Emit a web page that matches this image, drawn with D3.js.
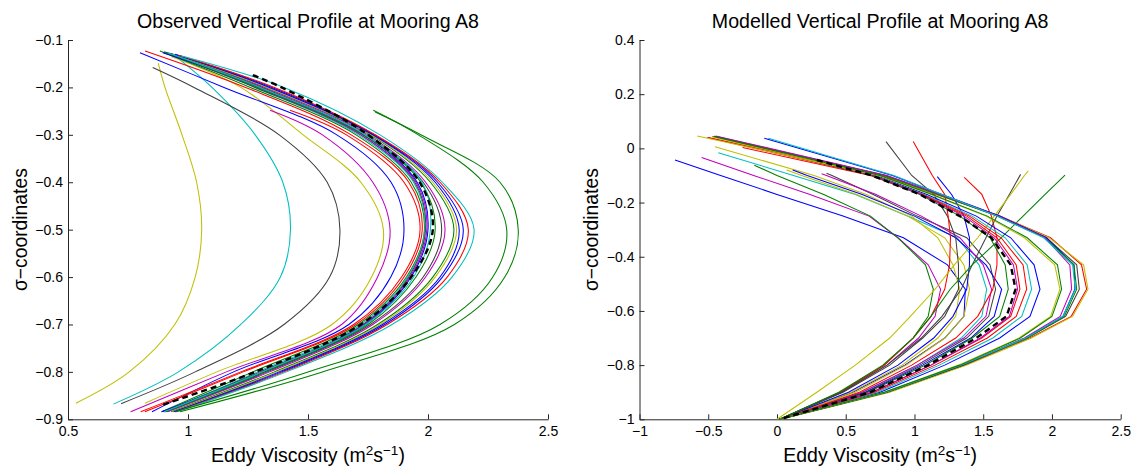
<!DOCTYPE html>
<html><head><meta charset="utf-8">
<script src="https://cdn.jsdelivr.net/npm/d3@7"></script>
<style>
html,body{margin:0;padding:0;background:#fff;}
svg{display:block;background:#fff;}
text{font-family:"Liberation Sans",Arial,Helvetica,sans-serif;fill:#000;}
</style></head><body>
<svg id="chart" width="1133" height="466"></svg>
<script>
// MATLAB-style line colours
const B = "#0000ff", G = "#008000", R = "#ff0000", C = "#00bfbf", M = "#bf00bf", Y = "#bfbf00", K = "#404040";

// ---------- Observed profiles (left panel) ----------
const obsLevels = [-0.2, -0.3, -0.4, -0.5, -0.6, -0.7, -0.8];
const obsColors = [Y, C, K, Y, M, B, R, R, G, C, K, M, B, K, M, G, Y, B, B, R, C, G, G, G, C];
// [sigma, viscosity] of the uppermost and lowest point of each profile
const obsStart = [
  [-0.149, 0.876], [-0.135, 0.95], [-0.158, 0.853], [-0.135, 0.93], [-0.248, 1.342],
  [-0.127, 0.80], [-0.248, 1.425], [-0.123, 0.821], [-0.123, 0.883], [-0.126, 0.91],
  [-0.126, 0.90], [-0.126, 0.905], [-0.127, 0.895], [-0.128, 0.92], [-0.128, 0.925],
  [-0.129, 0.93], [-0.130, 0.94], [-0.130, 0.945], [-0.131, 0.95], [-0.132, 0.96],
  [-0.133, 0.97], [-0.248, 1.772], [-0.252, 1.78], [-0.125, 0.90], [-0.127, 0.915]
];
const obsEnd = [
  [-0.866, 0.533], [-0.868, 0.689], [-0.867, 0.721], [-0.866, 0.821], [-0.884, 0.761],
  [-0.884, 0.85], [-0.884, 0.803], [-0.884, 0.82], [-0.884, 0.89], [-0.884, 0.90],
  [-0.884, 0.895], [-0.884, 0.90], [-0.884, 0.89], [-0.884, 0.91], [-0.884, 0.915],
  [-0.884, 0.93], [-0.884, 0.935], [-0.884, 0.94], [-0.884, 0.945], [-0.884, 0.95],
  [-0.884, 0.955], [-0.884, 0.947], [-0.884, 0.967], [-0.884, 0.905], [-0.884, 0.90]
];
// eddy viscosity at obsLevels (null above the profile's first point)
const obsViscosity = [
  [0.904, 0.975, 1.036, 1.057, 1.030, 0.945, 0.755],
  [1.10, 1.28, 1.395, 1.427, 1.385, 1.22, 0.96],
  [1.025, 1.38, 1.58, 1.633, 1.59, 1.40, 1.03],
  [1.22, 1.48, 1.72, 1.814, 1.765, 1.60, 1.12],
  [null, 1.56, 1.77, 1.842, 1.79, 1.64, 1.16],
  [1.15, 1.62, 1.846, 1.90, 1.845, 1.67, 1.19],
  [null, 1.66, 1.90, 1.967, 1.89, 1.69, 1.22],
  [1.24, 1.68, 1.92, 1.976, 1.90, 1.70, 1.23],
  [1.26, 1.70, 1.93, 1.985, 1.91, 1.71, 1.27],
  [1.28, 1.71, 1.94, 1.987, 1.915, 1.72, 1.29],
  [1.28, 1.72, 1.945, 1.99, 1.92, 1.73, 1.30],
  [1.29, 1.72, 1.95, 1.995, 1.925, 1.735, 1.31],
  [1.30, 1.73, 1.955, 2.0, 1.93, 1.74, 1.32],
  [1.31, 1.74, 1.98, 2.057, 1.98, 1.76, 1.33],
  [1.32, 1.75, 1.99, 2.071, 1.99, 1.77, 1.34],
  [1.33, 1.76, 2.01, 2.108, 2.02, 1.79, 1.36],
  [1.33, 1.765, 2.02, 2.119, 2.03, 1.80, 1.37],
  [1.34, 1.77, 2.03, 2.13, 2.05, 1.81, 1.38],
  [1.35, 1.775, 2.04, 2.147, 2.06, 1.82, 1.39],
  [1.36, 1.78, 2.05, 2.168, 2.08, 1.83, 1.40],
  [1.40, 1.80, 2.06, 2.192, 2.10, 1.85, 1.41],
  [null, 1.96, 2.23, 2.328, 2.27, 2.05, 1.50],
  [null, 1.97, 2.30, 2.376, 2.32, 2.11, 1.56],
  [1.29, 1.73, 1.97, 2.03, 1.95, 1.75, 1.32],
  [1.30, 1.74, 1.975, 2.01, 1.94, 1.74, 1.31]
];
const obsMeanStart = [-0.174, 1.27];
const obsMeanEnd = [-0.87, 0.89];
const obsMeanViscosity = [1.39, 1.75, 1.965, 2.02, 1.93, 1.72, 1.28];

// ---------- Modelled profiles (right panel) ----------
const modLevels = [-0.1, -0.17, -0.25, -0.33, -0.43, -0.52, -0.62, -0.7, -0.8, -0.9, -1.0];
const modColors = [B, M, G, C, Y, K, B, M, Y, K, R, B, R, K, Y, G, B, C, R, R, G, M, R, Y, K, B, G, M, C, Y, G];
const modStart = [
  [-0.043, -0.742], [-0.034, -0.548], [-0.062, -0.165], [-0.016, -0.427], [0.006, -0.451],
  [-0.092, 0.36], [-0.08, 0.114], [-0.094, 0.325], [-0.08, 0.07], [0.025, 0.793],
  [0.025, 0.991], [-0.104, 1.166], [-0.107, 1.362], [-0.096, 1.772], [-0.083, 1.828],
  [-0.099, 2.095], [0.043, -0.44], [0.040, -0.42], [0.040, -0.507], [0.003, -0.25],
  [0.044, -0.47], [0.045, -0.455], [0.040, -0.50], [0.046, -0.58], [0.045, -0.46],
  [0.037, -0.092], [0.044, -0.44], [0.046, -0.446], [0.037, -0.063], [0.042, -0.47],
  [0.043, -0.45]
];
const modViscosity = [
  [-0.41, 0.0, 0.48, 0.92, 1.24, 1.37, 1.36, 1.22, 0.93, 0.55, 0.02],
  [-0.17, 0.24, 0.67, 0.88, 1.10, 1.19, 1.15, 1.03, 0.80, 0.47, 0.02],
  [0.0, 0.34, 0.68, 0.88, 1.08, 1.137, 1.10, 0.99, 0.78, 0.46, 0.02],
  [0.12, 0.57, 0.95, 1.31, 1.47, 1.525, 1.49, 1.34, 1.02, 0.62, 0.02],
  [0.27, 0.65, 0.98, 1.17, 1.28, 1.33, 1.30, 1.17, 0.91, 0.54, 0.02],
  [0.40, 0.70, 1.02, 1.38, 1.55, 1.59, 1.54, 1.38, 1.04, 0.64, 0.02],
  [0.22, 0.62, 1.0, 1.30, 1.52, 1.634, 1.58, 1.41, 1.06, 0.65, 0.02],
  [0.36, 0.72, 1.05, 1.33, 1.50, 1.561, 1.52, 1.36, 1.02, 0.62, 0.02],
  [0.18, 0.58, 0.95, 1.22, 1.36, 1.40, 1.36, 1.22, 0.94, 0.57, 0.02],
  [0.98, 1.14, 1.24, 1.30, 1.32, 1.32, 1.22, 1.06, 0.82, 0.48, 0.02],
  [1.13, 1.22, 1.245, 1.262, 1.255, 1.22, 1.12, 0.99, 0.78, 0.46, 0.02],
  [null, 1.27, 1.36, 1.40, 1.40, 1.38, 1.28, 1.14, 0.88, 0.52, 0.02],
  [null, 1.49, 1.56, 1.60, 1.60, 1.57, 1.46, 1.30, 0.98, 0.60, 0.02],
  [null, 1.69, 1.60, 1.52, 1.42, 1.34, 1.20, 1.05, 0.80, 0.47, 0.02],
  [1.80, 1.70, 1.58, 1.46, 1.29, 1.15, 0.97, 0.82, 0.57, 0.29, 0.0],
  [null, 1.95, 1.79, 1.63, 1.42, 1.26, 1.12, 0.99, 0.77, 0.45, 0.02],
  [0.72, 1.09, 1.45, 1.70, 1.87, 1.913, 1.84, 1.62, 1.22, 0.75, 0.02],
  [0.71, 1.07, 1.42, 1.66, 1.82, 1.852, 1.78, 1.57, 1.18, 0.73, 0.02],
  [0.70, 1.06, 1.40, 1.63, 1.79, 1.816, 1.74, 1.53, 1.15, 0.71, 0.03],
  [0.68, 1.05, 1.38, 1.60, 1.74, 1.767, 1.70, 1.49, 1.12, 0.69, 0.02],
  [0.69, 1.04, 1.33, 1.55, 1.66, 1.682, 1.62, 1.42, 1.08, 0.66, 0.02],
  [0.70, 1.05, 1.36, 1.58, 1.72, 1.75, 1.69, 1.48, 1.12, 0.69, 0.02],
  [0.76, 1.16, 1.62, 1.99, 2.215, 2.252, 2.14, 1.84, 1.37, 0.81, 0.02],
  [0.74, 1.17, 1.62, 1.98, 2.23, 2.262, 2.15, 1.85, 1.38, 0.82, 0.03],
  [0.79, 1.18, 1.61, 1.96, 2.18, 2.199, 2.10, 1.82, 1.36, 0.80, 0.02],
  [0.84, 1.20, 1.62, 1.96, 2.16, 2.167, 2.08, 1.81, 1.35, 0.79, 0.02],
  [0.78, 1.17, 1.60, 1.95, 2.16, 2.18, 2.09, 1.82, 1.35, 0.80, 0.02],
  [0.80, 1.19, 1.61, 1.95, 2.13, 2.143, 2.06, 1.80, 1.34, 0.79, 0.02],
  [0.85, 1.20, 1.60, 1.94, 2.15, 2.17, 2.08, 1.81, 1.34, 0.79, 0.02],
  [0.74, 1.12, 1.52, 1.80, 2.02, 2.058, 1.99, 1.76, 1.32, 0.78, 0.02],
  [0.75, 1.13, 1.53, 1.82, 2.04, 2.07, 2.00, 1.77, 1.33, 0.78, 0.02]
];
const modMeanStart = [-0.043, 0.29];
const modMeanViscosity = [0.69, 1.04, 1.33, 1.56, 1.70, 1.735, 1.67, 1.45, 1.10, 0.68, 0.02];

// ---------- Axes ticks and labels ----------
const obsXTicks = [0.5, 1, 1.5, 2, 2.5];
const obsYTicks = [-0.9, -0.8, -0.7, -0.6, -0.5, -0.4, -0.3, -0.2, -0.1];
const modXTicks = [-1, -0.5, 0, 0.5, 1, 1.5, 2, 2.5];
const modYTicks = [-1, -0.8, -0.6, -0.4, -0.2, 0, 0.2, 0.4];
const titles = ["Observed Vertical Profile at Mooring A8", "Modelled Vertical Profile at Mooring A8"];
const yLabel = "σ−coordinates";

const svg = d3.select("#chart");

const xObs = d3.scaleLinear().domain([0.5, 2.5]).range([68, 548]);
const yObs = d3.scaleLinear().domain([-0.9, -0.1]).range([419.3, 40]);
const xMod = d3.scaleLinear().domain([-1, 2.5]).range([639.5, 1120.7]);
const yMod = d3.scaleLinear().domain([-1, 0.4]).range([419.3, 40]);

// assemble [sigma, value] points from a start point, level values and optional end point
function profilePoints(start, values, levels, end) {
  const pts = [start];
  levels.forEach((s, i) => {
    if (values[i] != null && s < start[0] - 0.004) pts.push([s, values[i]]);
  });
  if (end) pts.push(end);
  return pts;
}

function drawPanel(x, y, xTicks, yTicks, title, labelX) {
  const g = svg.append("g");
  const fmt = d3.format("~g");
  const xa = g.append("g")
    .attr("transform", `translate(0,${y.range()[0]})`)
    .call(d3.axisBottom(x).tickValues(xTicks).tickFormat(fmt)
      .tickSizeInner(-5).tickSizeOuter(0).tickPadding(7));
  const ya = g.append("g")
    .attr("transform", `translate(${x.range()[0]},0)`)
    .call(d3.axisLeft(y).tickValues(yTicks).tickFormat(fmt)
      .tickSizeInner(-5).tickSizeOuter(0).tickPadding(5));
  [xa, ya].forEach(a => {
    a.attr("font-family", null).attr("font-size", null);
    a.select(".domain").attr("stroke", "#262626").attr("stroke-width", 1);
    a.selectAll(".tick line").attr("stroke", "#262626");
    a.selectAll(".tick text").style("font-size", "14px").attr("fill", "#000");
  });
  const cx = (x.range()[0] + x.range()[1]) / 2;
  g.append("text").attr("x", cx).attr("y", 28).attr("text-anchor", "middle")
    .style("font-size", "19.6px").text(title);
  const xl = g.append("text").attr("x", cx).attr("y", 461.5).attr("text-anchor", "middle")
    .style("font-size", "19.5px");
  xl.append("tspan").text("Eddy Viscosity (m");
  xl.append("tspan").attr("dy", -7).style("font-size", "13.5px").text("2");
  xl.append("tspan").attr("dy", 7).text("s");
  xl.append("tspan").attr("dy", -7).style("font-size", "13.5px").text("−1");
  xl.append("tspan").attr("dy", 7).text(")");
  g.append("text").attr("transform", `translate(${labelX},${(y.range()[0] + y.range()[1]) / 2}) rotate(-90)`)
    .attr("text-anchor", "middle").style("font-size", "19.3px").text(yLabel);
  return g;
}

// Left panel: observed, smooth profiles
const gObs = drawPanel(xObs, yObs, obsXTicks, obsYTicks, titles[0], 27);
const lineObs = d3.line().x(d => xObs(d[1])).y(d => yObs(d[0])).curve(d3.curveCatmullRom.alpha(0.5));
const obsLines = gObs.append("g");
obsViscosity.forEach((vals, i) => {
  obsLines.append("path")
    .attr("d", lineObs(profilePoints(obsStart[i], vals, obsLevels, obsEnd[i])))
    .attr("fill", "none").attr("stroke", obsColors[i]).attr("stroke-width", 1.05);
});
obsLines.append("path")
  .attr("d", lineObs(profilePoints(obsMeanStart, obsMeanViscosity, obsLevels, obsMeanEnd)))
  .attr("fill", "none").attr("stroke", "#000").attr("stroke-width", 2.4)
  .attr("stroke-dasharray", "6,4");

// Right panel: modelled, piecewise-linear profiles
const gMod = drawPanel(xMod, yMod, modXTicks, modYTicks, titles[1], 598);
const lineMod = d3.line().x(d => xMod(d[1])).y(d => yMod(d[0]));
const modLines = gMod.append("g");
modViscosity.forEach((vals, i) => {
  modLines.append("path")
    .attr("d", lineMod(profilePoints(modStart[i], vals, modLevels)))
    .attr("fill", "none").attr("stroke", modColors[i]).attr("stroke-width", 1.05);
});
modLines.append("path")
  .attr("d", lineMod(profilePoints(modMeanStart, modMeanViscosity, modLevels)))
  .attr("fill", "none").attr("stroke", "#000").attr("stroke-width", 2.4)
  .attr("stroke-dasharray", "6,4");
</script>
</body></html>
